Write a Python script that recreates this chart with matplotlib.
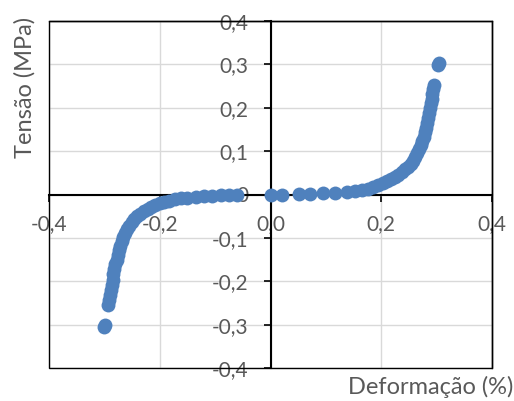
import matplotlib
matplotlib.use("Agg")
import matplotlib.pyplot as plt
from matplotlib.patches import Rectangle

# ---- data ----
strain_pos = [0.000, 0.021, 0.051, 0.072, 0.095, 0.116, 0.138, 0.152, 0.165, 0.176,
              0.186, 0.195, 0.203, 0.211, 0.218, 0.225, 0.231, 0.237, 0.243, 0.248,
              0.253, 0.257, 0.261, 0.265, 0.268, 0.271, 0.274, 0.277, 0.279, 0.281,
              0.283, 0.285, 0.286, 0.288, 0.289, 0.291, 0.292, 0.293, 0.295, 0.303, 0.304]
stress_pos = [0.000, 0.000, 0.001, 0.002, 0.003, 0.004, 0.006, 0.008, 0.010, 0.013,
              0.017, 0.021, 0.026, 0.031, 0.036, 0.041, 0.046, 0.052, 0.058, 0.064,
              0.071, 0.078, 0.086, 0.095, 0.104, 0.113, 0.123, 0.133, 0.143, 0.154,
              0.165, 0.177, 0.188, 0.199, 0.210, 0.221, 0.232, 0.243, 0.252, 0.298, 0.303]
strain_neg = [-0.060, -0.075, -0.090, -0.105, -0.120, -0.135, -0.150, -0.162, -0.173, -0.183,
              -0.192, -0.200, -0.208, -0.215, -0.222, -0.229, -0.235, -0.241, -0.246, -0.251,
              -0.255, -0.259, -0.263, -0.266, -0.269, -0.272, -0.274, -0.276, -0.278, -0.280,
              -0.282, -0.284, -0.285, -0.287, -0.288, -0.290, -0.291, -0.293, -0.299, -0.300]
stress_neg = [-0.001, -0.002, -0.002, -0.003, -0.004, -0.005, -0.007, -0.009, -0.011, -0.014,
              -0.017, -0.020, -0.024, -0.028, -0.033, -0.038, -0.044, -0.050, -0.057, -0.064,
              -0.072, -0.080, -0.089, -0.098, -0.108, -0.118, -0.128, -0.139, -0.150, -0.161,
              -0.172, -0.184, -0.196, -0.208, -0.220, -0.232, -0.244, -0.255, -0.300, -0.305]

x_ticks = [-0.4, -0.2, 0.0, 0.2, 0.4]
x_tick_labels = ["-0,4", "-0,2", "0,0", "0,2", "0,4"]
y_ticks = [-0.4, -0.3, -0.2, -0.1, 0.0, 0.1, 0.2, 0.3, 0.4]
y_tick_labels = ["-0,4", "-0,3", "-0,2", "-0,1", "0", "0,1", "0,2", "0,3", "0,4"]
x_title = "Deformação (%)"
y_title = "Tensão (MPa)"

TXT = "#595959"
BLUE = "#4F81BD"
plt.rcParams['font.family'] = ['Lato', 'DejaVu Sans']

W, H = 514, 401
fig = plt.figure(figsize=(W / 100, H / 100), dpi=100)
ax = fig.add_axes([49 / W, 1 - 368 / H, (492 - 49) / W, (368 - 21) / H])

ax.set_xlim(-0.4, 0.4)
ax.set_ylim(-0.4, 0.4)

ax.plot(strain_pos + strain_neg, stress_pos + stress_neg, linestyle='none',
        marker='o', markersize=10, color=BLUE, markeredgewidth=0, zorder=3)

ax.set_xticks(x_ticks)
ax.set_xticklabels(x_tick_labels)
ax.set_yticks(y_ticks)
ax.set_yticklabels(y_tick_labels)

ax.grid(True, color="#D9D9D9", linewidth=1.0, zorder=0)
ax.set_axisbelow(True)

for s in ['top', 'right']:
    ax.spines[s].set_color('black')
    ax.spines[s].set_linewidth(1.0)
ax.spines['left'].set_position(('data', 0))
ax.spines['bottom'].set_position(('data', 0))
for s in ['left', 'bottom']:
    ax.spines[s].set_color('black')
    ax.spines[s].set_linewidth(1.5)
    ax.spines[s].set_zorder(2.5)

ax.add_patch(Rectangle((0, 0), 1, 1, transform=ax.transAxes, fill=False,
                       edgecolor='black', linewidth=1.0, clip_on=False, zorder=2.5))

ax.tick_params(axis='both', direction='out', length=5, width=1.2, color='black',
               labelsize=15, labelcolor=TXT)
ax.tick_params(axis='y', pad=11)
ax.tick_params(axis='x', pad=9)

fig.text(513 / W, 1 - 387 / H, x_title, ha='right', va='center', fontsize=17, color=TXT)
fig.text(25 / W, 1 - 87 / H, y_title, ha='center', va='center', rotation=90,
         fontsize=17, color=TXT)

fig.savefig("out.png", dpi=100)
